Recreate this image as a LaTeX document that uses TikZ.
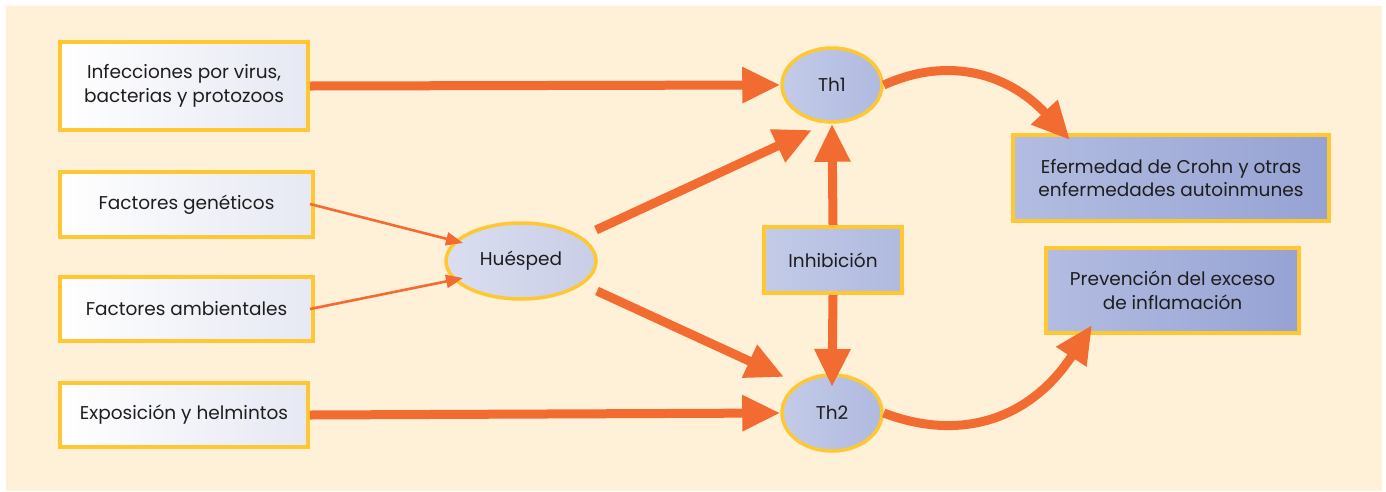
\documentclass[tikz,border=0pt]{standalone}
\usepackage{fontspec}
\setmainfont{Poppins}
\usetikzlibrary{arrows.meta,shapes.geometric}
\definecolor{bgc}{HTML}{FFF0D8}
\definecolor{yel}{HTML}{FFC832}
\definecolor{org}{HTML}{F26C32}
\definecolor{txt}{HTML}{1E1E1E}
\definecolor{lwL}{HTML}{FFFFFF}
\definecolor{lwR}{HTML}{E6E8F3}
\definecolor{huL}{HTML}{DADEF0}
\definecolor{huR}{HTML}{C9CEE7}
\definecolor{thL}{HTML}{C3CBE8}
\definecolor{thR}{HTML}{B0BADF}
\definecolor{dkL}{HTML}{B3BDE2}
\definecolor{dkR}{HTML}{96A2D3}
\tikzset{
  x=1pt,y=-1pt,
  every node/.style={text=txt,font=\fontsize{18.5}{23.5}\selectfont,align=center,inner sep=0pt},
  leftbox/.style={draw=yel,line width=4pt,left color=lwL,right color=lwR,minimum width=#1},
  leftbox/.default=248pt,
  bluebox/.style={draw=yel,line width=4pt,left color=dkL,right color=dkR},
  ell/.style={ellipse,draw=yel,line width=3.5pt,left color=#1L,right color=#1R},
  big/.style={draw=org,line width=9pt,-{Triangle[length=38pt,width=34pt]}},
  thin/.style={draw=org,line width=2.6pt,-{Triangle[length=17pt,width=13pt]}}
}
\begin{document}
\begin{tikzpicture}
\useasboundingbox (0,0) rectangle (1386,491);
\fill[bgc] (6,6) rectangle (1382,491);

\node[leftbox,minimum height=88pt] (inf) at (184,86) {Infecciones por virus,\\bacterias y protozoos};
\node[leftbox=253pt,minimum height=65pt] (gen) at (186.5,204.5) {Factores genéticos};
\node[leftbox=253pt,minimum height=64pt] (amb) at (186.5,309) {Factores ambientales};
\node[leftbox,minimum height=64pt] (exp) at (184,415) {Exposición y helmintos};

\node[ell=hu,minimum width=150pt,minimum height=76pt] (hue) at (521,261) {Huésped};
\node[ell=th,minimum width=100pt,minimum height=74pt] (th1) at (832,85) {Th1};
\node[ell=th,minimum width=100pt,minimum height=76pt] (th2) at (832,413) {Th2};

\node[draw=yel,line width=4pt,left color=thL,right color=thR,minimum width=138pt,minimum height=66pt] (inh) at (833,260) {Inhibición};
\node[bluebox,minimum width=316pt,minimum height=86pt] (efe) at (1171,178) {Efermedad de Crohn y otras\\enfermedades autoinmunes};
\node[bluebox,minimum width=253pt,minimum height=85pt] (pre) at (1172.5,290.5) {Prevención del exceso\\de inflamación};

\coordinate (hA) at (596,230);
\coordinate (hB) at (597,291);
\coordinate (gA) at (310,204);
\coordinate (aA) at (310,309);
\coordinate (eT) at (1070,140);
\coordinate (pT) at (1092,325);
\draw[big] (inf.east) -- (th1.west);
\draw[big] (exp.east) -- (th2.west);
\draw[big] (hA) -- (812,130);
\draw[big] (hB) -- (784,377);
\draw[thin] (gA) -- (463,243);
\draw[thin] (aA) -- (463,278);
\draw[big] (inh.north) -- (th1.south);
\draw[big] (inh.south) -- (832,387);
\draw[big] (th1.east) .. controls (950,55) and (1010,75) .. (eT);
\draw[big] (th2.east) .. controls (960,442) and (1030,420) .. (pT);
\end{tikzpicture}
\end{document}
